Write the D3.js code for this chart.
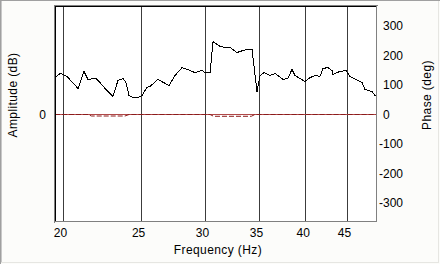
<!DOCTYPE html>
<html>
<head>
<meta charset="utf-8">
<script src="https://d3js.org/d3.v7.min.js"></script>
<style>
body { margin: 0; background: #fff; }
svg { display: block; }
text { font-family: "Liberation Sans", Arial, sans-serif; font-size: 12px; fill: #000; }
</style>
</head>
<body>
<div id="chart"></div>
<script>
// tick values
var freqTicks = [20, 25, 30, 35, 40, 45];
var phaseTicks = [300, 200, 100, 0, -100, -200, -300];
var ampTicks = [0];

// phase trace (Hz / deg)
var phaseFreq = [19.55, 19.83, 20.0, 20.23, 20.88, 21.24, 21.48, 21.98, 22.23, 22.68, 23.07, 23.40, 23.74, 23.94,
    24.15, 24.43, 24.78, 25.06, 25.42, 25.64, 26.23, 27.07, 27.54, 28.10, 28.50, 29.16, 29.75, 30.00, 30.44,
    30.70, 31.32, 31.77, 32.23, 32.88, 33.44, 33.83, 34.32, 34.81, 34.91, 35.11, 35.51, 36.12, 36.64, 37.49,
    38.02, 38.46, 38.79, 39.91, 40.49, 41.07, 41.66, 42.02, 42.62, 43.12, 43.24, 44.11, 44.87, 45.39, 46.44,
    46.98, 47.38, 48.34, 48.75, 49.03];
var phaseDeg = [125, 139, 136, 129, 88, 146, 119, 122, 108, 81, 61, 115, 122, 108,
    64, 58, 58, 64, 92, 95, 119, 98, 132, 159, 153, 142, 149, 142, 142,
    247, 231, 227, 227, 210, 217, 220, 220, 75, 98, 132, 142, 132, 139, 119,
    122, 153, 132, 112, 125, 132, 129, 156, 159, 149, 136, 146, 149, 129, 115,
    108, 85, 78, 64, 64];

// amplitude trace (Hz / dB)
var ampFreq = [19.55, 21.48, 21.7, 23.87, 24.15, 30.44, 30.75, 34.24, 34.6, 49.03];
var ampDb = [0, 0, -0.28, -0.28, 0, 0, -0.33, -0.33, 0, 0];

var W = 440, H = 264;
var plot = { left: 55, top: 6, right: 377, bottom: 222 };

var svg = d3.select("#chart").append("svg")
    .attr("width", W)
    .attr("height", H);

// window background and sunken border
svg.append("rect").attr("width", W).attr("height", H).attr("fill", "#fcfcfa");
function hline(y, x1, x2, c) {
    svg.append("line").attr("x1", x1).attr("x2", x2).attr("y1", y).attr("y2", y).attr("stroke", c);
}
function vline(x, y1, y2, c) {
    svg.append("line").attr("x1", x).attr("x2", x).attr("y1", y1).attr("y2", y2).attr("stroke", c);
}
hline(0.5, 0, W, "#a0a0a0");
vline(0.5, 0, H, "#a0a0a0");
vline(1.5, 1, H - 1, "#c8c8c8");
hline(H - 1.5, 1, W - 1, "#e6e6e2");
vline(W - 1.5, 1, H - 1, "#e6e6e2");

var x = d3.scaleLog().domain([19.55, 49.03]).range([plot.left, plot.right]);
var yPhase = d3.scaleLinear().domain([-366, 366]).range([plot.bottom + 0.5, plot.top + 0.5]);
var yAmp = d3.scaleLinear().domain([-20, 20]).range([plot.bottom + 0.5, plot.top + 0.5]);

// plot area
svg.append("rect")
    .attr("x", plot.left + 1).attr("y", plot.top + 1)
    .attr("width", plot.right - plot.left - 1).attr("height", plot.bottom - plot.top - 1)
    .attr("fill", "#fff");

svg.append("clipPath").attr("id", "clip")
    .append("rect")
    .attr("x", plot.left + 1).attr("y", plot.top + 1)
    .attr("width", plot.right - plot.left - 1).attr("height", plot.bottom - plot.top - 1);

// vertical grid
svg.append("g")
    .selectAll("line")
    .data(freqTicks)
    .join("line")
    .attr("x1", function (d) { return Math.round(x(d) - 0.3) + 0.5; })
    .attr("x2", function (d) { return Math.round(x(d) - 0.3) + 0.5; })
    .attr("y1", plot.top)
    .attr("y2", plot.bottom)
    .attr("stroke", "#3c3c3c");

var lines = svg.append("g").attr("clip-path", "url(#clip)");

// zero reference + amplitude (dashed)
lines.append("line")
    .attr("x1", plot.left).attr("x2", plot.right)
    .attr("y1", yAmp(0)).attr("y2", yAmp(0))
    .attr("stroke", "#b04848");

lines.append("path")
    .datum(d3.zip(ampFreq, ampDb))
    .attr("fill", "none")
    .attr("stroke", "#8b1c1c")
    .attr("stroke-dasharray", "5,2")
    .attr("d", d3.line()
        .x(function (d) { return x(d[0]); })
        .y(function (d) { return yAmp(d[1]); }));

// phase
lines.append("path")
    .datum(d3.zip(phaseFreq, phaseDeg))
    .attr("fill", "none")
    .attr("stroke", "#000")
    .attr("shape-rendering", "crispEdges")
    .attr("d", d3.line()
        .x(function (d) { return x(d[0]); })
        .y(function (d) { return yPhase(d[1]); }));

// plot frame (sunken)
hline(plot.top - 0.5, plot.left - 1, plot.right + 1, "#808080");
vline(plot.left - 0.5, plot.top - 1, plot.bottom + 1, "#808080");
hline(plot.top + 0.5, plot.left, plot.right, "#000");
vline(plot.left + 0.5, plot.top, plot.bottom, "#000");
vline(plot.right - 0.5, plot.top, plot.bottom, "#808080");
hline(plot.bottom - 0.5, plot.left, plot.right, "#808080");

// axes
svg.append("g")
    .attr("transform", "translate(0," + plot.bottom + ")")
    .call(d3.axisBottom(x).tickValues(freqTicks).tickSize(0).tickPadding(6)
        .tickFormat(function (d) { return String(d); }))
    .call(function (g) { g.select(".domain").remove(); })
    .selectAll(".tick text")
    .attr("x", -3);

svg.append("g")
    .attr("transform", "translate(" + plot.right + ",0)")
    .call(d3.axisRight(yPhase).tickValues(phaseTicks).tickSize(0).tickPadding(6)
        .tickFormat(function (d) { return String(d); }))
    .call(function (g) { g.select(".domain").remove(); })
    .selectAll(".tick text")
    .attr("x", function (d) { return d < 0 ? 2 : 6; });

svg.append("g")
    .attr("transform", "translate(" + plot.left + ",0)")
    .call(d3.axisLeft(yAmp).tickValues(ampTicks).tickSize(0).tickPadding(9)
        .tickFormat(function (d) { return String(d); }))
    .call(function (g) { g.select(".domain").remove(); });

// titles
svg.append("text")
    .attr("x", 218).attr("y", 254)
    .attr("text-anchor", "middle")
    .style("letter-spacing", "0.4px")
    .text("Frequency (Hz)");

svg.append("text")
    .attr("transform", "translate(17,95) rotate(-90)")
    .attr("text-anchor", "middle")
    .style("letter-spacing", "0.4px")
    .text("Amplitude (dB)");

svg.append("text")
    .attr("transform", "translate(431,95) rotate(-90)")
    .attr("text-anchor", "middle")
    .style("letter-spacing", "0.4px")
    .text("Phase (deg)");
</script>
</body>
</html>
